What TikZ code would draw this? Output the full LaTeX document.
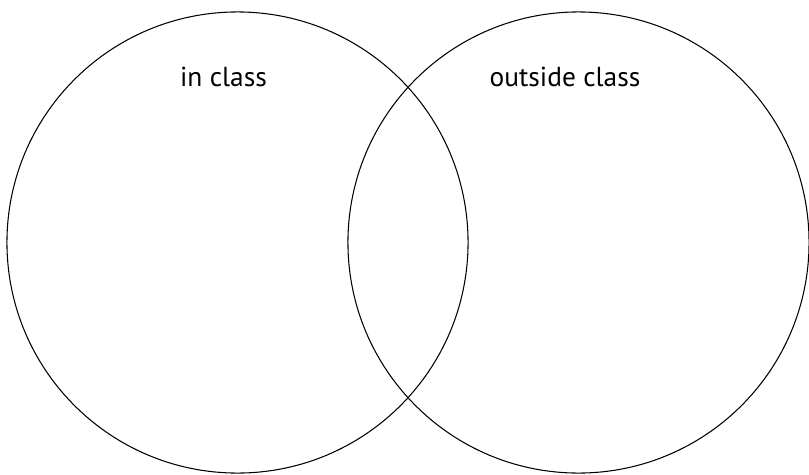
\documentclass[tikz,border=0pt]{standalone}
\usepackage{fontspec}
\setmainfont{PT Sans}
\usetikzlibrary{positioning}

\begin{document}
\begin{tikzpicture}[x=0.025cm, y=-0.025cm,
    setcircle/.style={draw, circle, line width=0.75pt, minimum size=11.525cm, inner sep=0pt},
    setlabel/.style={anchor=base, font=\fontsize{19.5}{24}\selectfont}]
    \useasboundingbox (0,0) rectangle (809,474);

    % Sets
    \node[setcircle] (inclass) at (237.5,242.5) {};
    \node[setcircle] (outclass) at (578.5,242.5) {};

    % Labels
    \node[setlabel] (inlabel) at (223.5,86) {in class};
    \node[setlabel] (outlabel) at (565,86) {outside class};

\end{tikzpicture}
\end{document}
